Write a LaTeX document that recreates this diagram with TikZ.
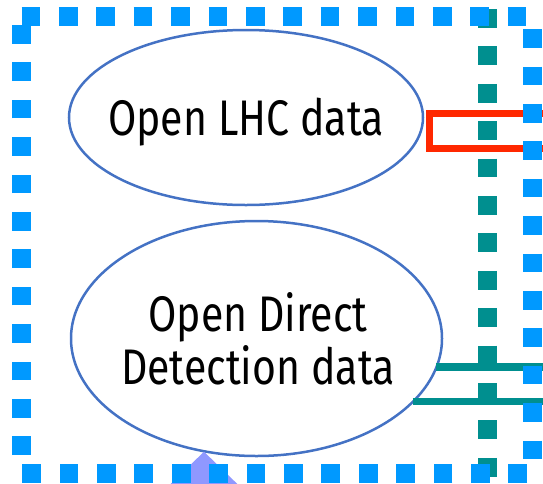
\documentclass[tikz,border=0pt]{standalone}
\usepackage{fontspec}
\setmainfont{Fira Sans}[FakeStretch=0.82]
\usetikzlibrary{shapes.geometric,arrows.meta}
\definecolor{openblue}{RGB}{0,153,255}
\definecolor{ovalline}{RGB}{68,114,196}
\definecolor{linkteal}{RGB}{0,143,143}
\definecolor{linkred}{RGB}{255,40,0}
\definecolor{feedpurple}{RGB}{143,152,255}
\tikzstyle{oval}=[ellipse, draw=ovalline, line width=2.5pt, inner sep=0pt, outer sep=0pt]
\tikzset{label/.style={font=\fontsize{50}{53}\selectfont, align=center}}
\tikzset{dots/.style={line width=19pt, dash pattern=on 18.7pt off 18.7pt}}
\tikzset{link/.style={line width=7.5pt}}

\begin{document}
\begin{tikzpicture}[x=1pt,y=-1pt]
  \useasboundingbox (0,0) rectangle (543,483);
  \draw (246,117.5) node[oval,minimum width=354pt,minimum height=175pt] (lhc) {};
  \draw (246,135) node[label,anchor=base] (lhctext) {Open LHC data};
  \draw (256.5,338.5) node[oval,minimum width=371pt,minimum height=235pt] (dd) {};
  \draw (258,338.5) node[label] (ddtext) {Open Direct\\Detection data};

  %% Links leaving to the right
  \coordinate (redtop) at (560,113.3);
  \coordinate (redbot) at (560,148.3);
  \coordinate (tealend) at (560,380);
  \draw[link,color=linkred,line join=miter] (redtop) -- (429.5,113.3) |- (redbot);
  \draw[link,color=linkteal] (dd.-9.6) -- (dd.-9.6 -| tealend);
  \draw[link,color=linkteal] (dd.-22.7) -- (dd.-22.7 -| tealend);

  %% Feed from below
  \coordinate (feed) at (204,540);
  \draw[-{Triangle[length=40pt,width=80pt]},line width=20pt,color=feedpurple] (feed) -- (feed |- dd.-114.9);

  %% Dotted frames
  \draw[dots,color=linkteal] (487,9) -- (487,483);
  \draw[dots,color=openblue] (21.5,16) -- (532,16) -- (532,473) -- (21.5,473) -- cycle;
\end{tikzpicture}
\end{document}
